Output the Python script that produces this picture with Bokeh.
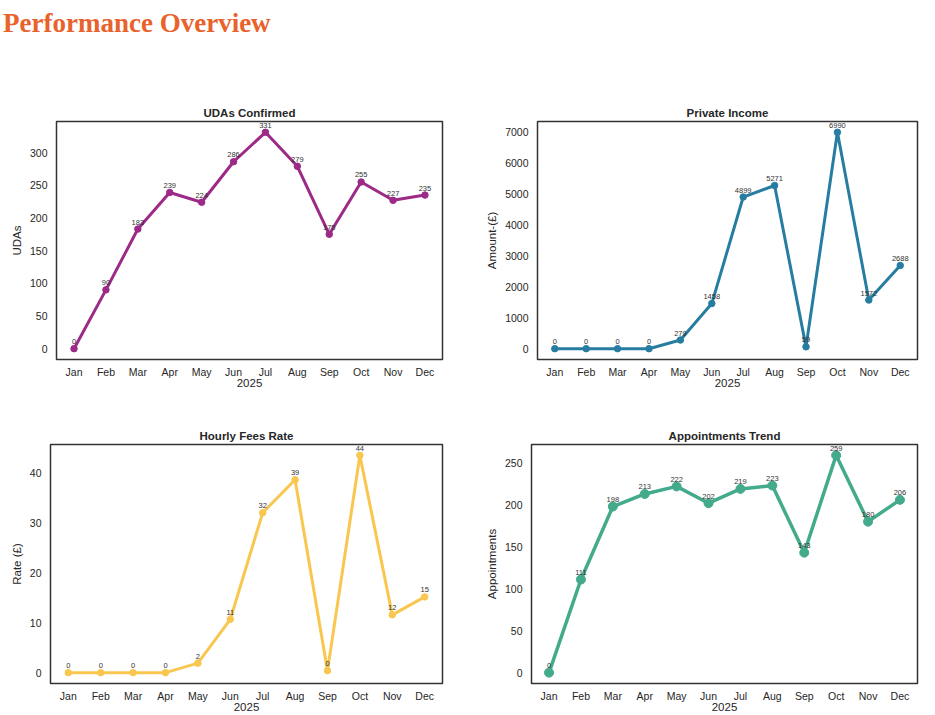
from bokeh.plotting import figure
from bokeh.models import Div, FixedTicker, Range1d, ColumnDataSource, LabelSet
from bokeh.core.properties import value
from bokeh.layouts import column, row
from bokeh.embed import file_html
from bokeh.resources import INLINE

page_title = "Performance Overview"
months = ["Jan", "Feb", "Mar", "Apr", "May", "Jun", "Jul", "Aug", "Sep", "Oct", "Nov", "Dec"]
year_label = "2025"

udas = [0, 90, 183, 239, 224, 286, 331, 279, 175, 255, 227, 235]
income = [0, 0, 0, 0, 279, 1458, 4899, 5271, 59, 6990, 1572, 2688]
hourly = [0, 0, 0, 0, 1.9, 10.7, 32.1, 38.7, 0.4, 43.6, 11.6, 15.2]
appts = [0, 111, 198, 213, 222, 202, 219, 223, 143, 259, 180, 206]

udas_ticks = [0, 50, 100, 150, 200, 250, 300]
income_ticks = [0, 1000, 2000, 3000, 4000, 5000, 6000, 7000]
hourly_ticks = [0, 10, 20, 30, 40]
appts_ticks = [0, 50, 100, 150, 200, 250]

FONT = "Liberation Sans"
TXT = "#262626"


def panel(title, ylabel, values, color, yticks, fw, fh, left, right, top, bottom,
          msize=6.5, lw=3):
    lo, hi = min(values), max(values)
    span = hi - lo
    p = figure(frame_width=fw, frame_height=fh, min_border_left=left,
               min_border_right=right, min_border_top=top, min_border_bottom=bottom,
               x_range=Range1d(-0.55, 11.55),
               y_range=Range1d(lo - 0.05 * span, hi + 0.05 * span),
               output_backend="svg", toolbar_location=None, title=title)
    p.title.text_font = FONT
    p.title.text_font_size = "11.5px"
    p.title.text_font_style = "bold"
    p.title.text_color = TXT
    p.title.align = "center"
    p.title.standoff = 5
    p.outline_line_color = "#333333"
    p.outline_line_width = 1.5
    p.outline_line_alpha = 1.0
    p.xgrid.visible = False
    p.ygrid.visible = False
    p.background_fill_color = "white"
    p.border_fill_color = "white"

    xs = list(range(len(months)))
    p.xaxis.ticker = FixedTicker(ticks=xs)
    p.xaxis.major_label_overrides = {i: m for i, m in enumerate(months)}
    p.yaxis.ticker = FixedTicker(ticks=yticks)
    for ax in (p.xaxis, p.yaxis):
        ax.axis_line_color = None
        ax.major_tick_line_color = None
        ax.minor_tick_line_color = None
        ax.major_tick_out = 0
        ax.major_tick_in = 0
        ax.minor_tick_out = 0
        ax.minor_tick_in = 0
        ax.major_label_text_font = FONT
        ax.major_label_text_font_size = "10.5px"
        ax.major_label_text_color = TXT
        ax.axis_label_text_font = FONT
        ax.axis_label_text_font_size = "11.5px"
        ax.axis_label_text_font_style = "normal"
        ax.axis_label_text_color = TXT
    p.xaxis.axis_label = year_label
    p.yaxis.axis_label = ylabel
    p.xaxis.major_label_standoff = 6
    p.yaxis.major_label_standoff = 9
    p.xaxis.axis_label_standoff = -2
    p.yaxis.axis_label_standoff = 4

    src = ColumnDataSource(dict(x=xs, y=values, lab=[f"{v:.0f}" for v in values]))
    p.line("x", "y", source=src, line_color=color, line_width=lw)
    p.scatter("x", "y", source=src, size=msize, fill_color=color, line_color=color)
    labels = LabelSet(x="x", y="y", text="lab", source=src, x_offset=0, y_offset=4.5,
                      text_align="center", text_baseline="bottom",
                      text_font=value(FONT), text_font_size=value("7.5px"),
                      text_color="#333333")
    p.add_layout(labels)
    return p


p1 = panel("UDAs Confirmed", "UDAs", udas, "#9c2a86", udas_ticks,
           386, 238, 56, 18, 26, 41)
p2 = panel("Private Income", "Amount-(£)", income, "#277da1", income_ticks,
           380, 238, 77, 10, 26, 41)
p3 = panel("Hourly Fees Rate", "Rate (£)", hourly, "#f9c74f", hourly_ticks,
           392, 239, 50, 18, 44, 29)
p4 = panel("Appointments Trend", "Appointments", appts, "#43aa8b", appts_ticks,
           386, 239, 71, 10, 44, 29, msize=9, lw=3.5)

title_div = Div(
    text=f'<div style="font-family: \'Liberation Serif\', \'Times New Roman\', serif; '
         f'font-weight: bold; font-size: 27px; color: #e9622c; margin: 0; '
         f'padding: 8px 0 0 3px; line-height: 30px; white-space: nowrap;">{page_title}</div>',
    width=927, height=95, margin=0)

layout = column(title_div, row(p1, p2), row(p3, p4))

open("out.html", "w").write(file_html(layout, INLINE))
